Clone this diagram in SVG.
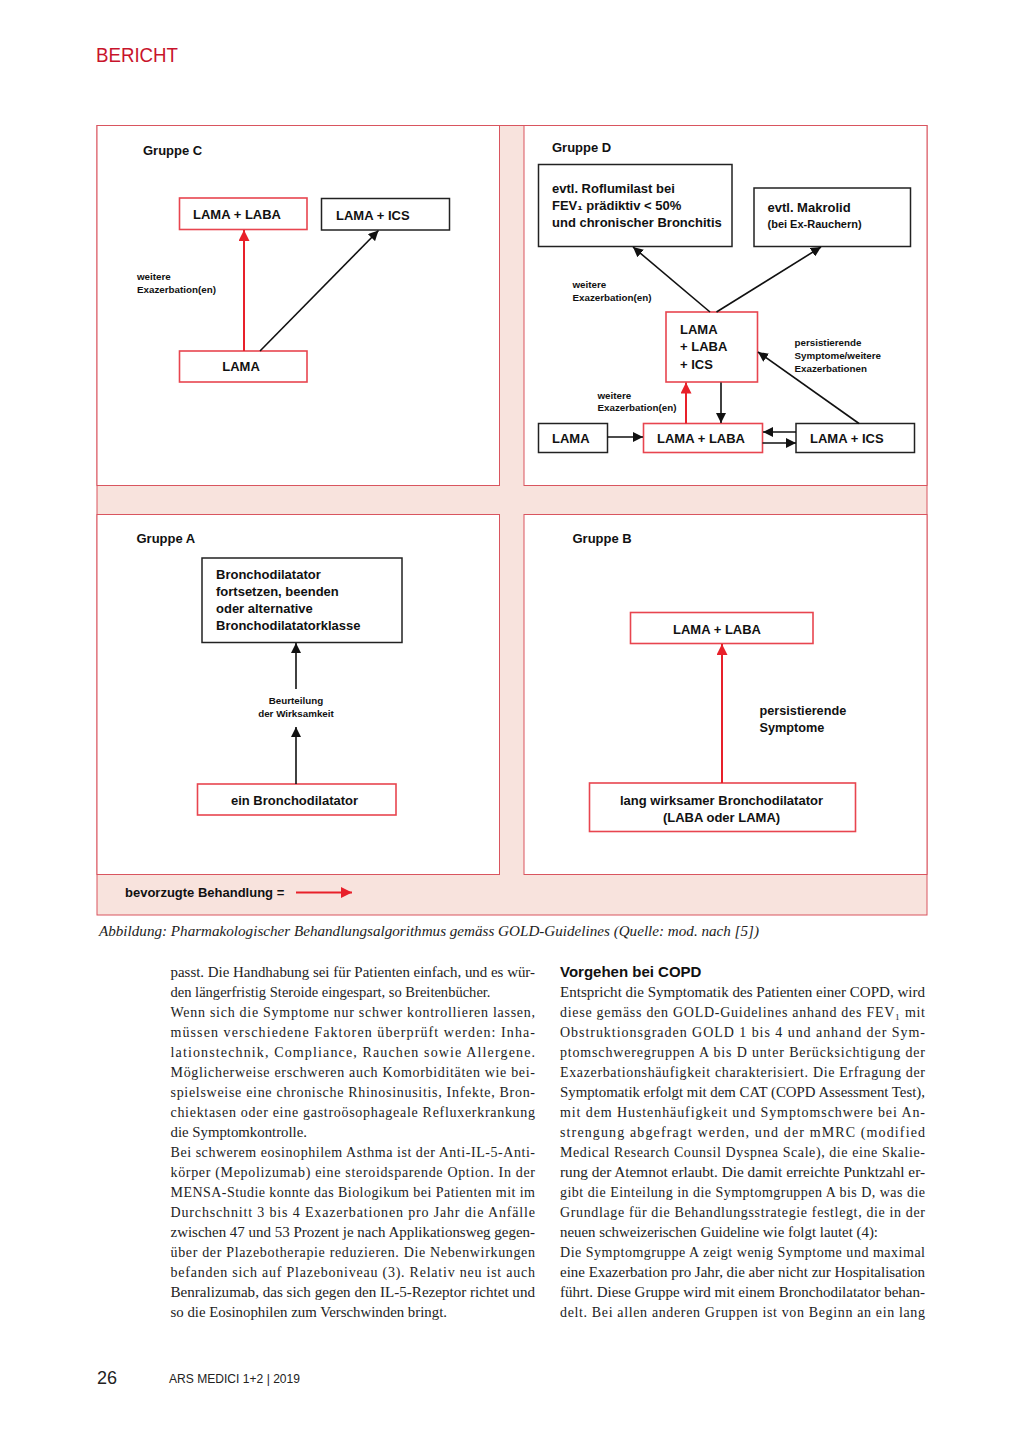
<svg xmlns="http://www.w3.org/2000/svg" width="1024" height="1437" viewBox="0 0 1024 1437">
<style>
.lbl{font-family:"Liberation Sans",Arial,sans-serif;font-weight:bold;fill:#111;}
.f13{font-size:13px;}
.f11{font-size:11px;}
.f95{font-size:9.8px;}
.rbox{fill:#fff;stroke:#e8454f;stroke-width:1.6;}
.kbox{fill:#fff;stroke:#222;stroke-width:1.5;}
.panel{fill:#fff;stroke:#d9555f;stroke-width:1;}
.ka{stroke:#111;stroke-width:1.6;fill:none;}
.ra{stroke:#e8202a;stroke-width:2;fill:none;}
.body{font-family:"Liberation Serif","Times New Roman",serif;font-size:14px;fill:#222;}
</style>
<defs>
<marker id="mk" viewBox="0 0 10 10" refX="10" refY="5" markerWidth="10" markerHeight="10" markerUnits="userSpaceOnUse" orient="auto"><path d="M0,0 L10,5 L0,10 z" fill="#111"/></marker>
<marker id="mr" viewBox="0 0 10 10" refX="10" refY="5" markerWidth="11" markerHeight="11" markerUnits="userSpaceOnUse" orient="auto"><path d="M0,0 L10,5 L0,10 z" fill="#e8202a"/></marker>
</defs>

<text x="96" y="61.5" font-family="Liberation Sans,Arial,sans-serif" font-size="19.5" fill="#c8142c" textLength="82" lengthAdjust="spacingAndGlyphs">BERICHT</text>

<!-- background -->
<g id="background">
<rect x="97" y="125.5" width="830" height="789.5" fill="#f8e3dd" stroke="#d9555f" stroke-width="1"/>
<rect class="panel" x="97" y="125.5" width="402.5" height="360"/>
<rect class="panel" x="524" y="125.5" width="403" height="360"/>
<rect class="panel" x="97" y="514.5" width="402.5" height="360"/>
<rect class="panel" x="524" y="514.5" width="403" height="360"/>
</g>

<!-- Gruppe C -->
<g id="gruppe-c">
<text class="lbl f13" x="143" y="154.5">Gruppe C</text>
<g id="c-lama-laba"><rect class="rbox" x="179.5" y="198" width="127.5" height="31.5"/><text class="lbl f13" x="193" y="219">LAMA + LABA</text></g>
<g id="c-lama-ics"><rect class="kbox" x="321.5" y="198.5" width="128" height="31.5"/><text class="lbl f13" x="336" y="219.5">LAMA + ICS</text></g>
<g id="c-lama"><rect class="rbox" x="179.5" y="351" width="127.5" height="31"/><text class="lbl f13" x="241" y="371" text-anchor="middle">LAMA</text></g>
<text class="lbl f95" x="137" y="279.5">weitere</text>
<text class="lbl f95" x="137" y="292.5">Exazerbation(en)</text>
</g>

<!-- Gruppe D -->
<g id="gruppe-d">
<text class="lbl f13" x="552" y="151.5">Gruppe D</text>
<g id="d-roflumilast"><rect class="kbox" x="538.5" y="164.5" width="193.5" height="82"/>
<text class="lbl f13" x="552" y="193">evtl. Roflumilast bei</text>
<text class="lbl f13" x="552" y="210">FEV₁ prädiktiv &lt; 50%</text>
<text class="lbl f13" x="552" y="227">und chronischer Bronchitis</text></g>
<g id="d-makrolid"><rect class="kbox" x="754" y="188" width="156.5" height="58.5"/>
<text class="lbl f13" x="767.5" y="212">evtl. Makrolid</text>
<text class="lbl f11" x="767.5" y="228">(bei Ex-Rauchern)</text></g>
<g id="d-triple"><rect class="rbox" x="666" y="312" width="91.5" height="70"/>
<text class="lbl f13" x="680" y="333.5">LAMA</text>
<text class="lbl f13" x="680" y="351">+ LABA</text>
<text class="lbl f13" x="680" y="368.5">+ ICS</text></g>
<g id="d-lama"><rect class="kbox" x="538.5" y="423.5" width="69" height="29"/><text class="lbl f13" x="552" y="443">LAMA</text></g>
<g id="d-lama-laba"><rect class="rbox" x="643.5" y="423.5" width="119" height="29"/><text class="lbl f13" x="657" y="443">LAMA + LABA</text></g>
<g id="d-lama-ics"><rect class="kbox" x="796" y="423.5" width="118.5" height="29"/><text class="lbl f13" x="810" y="443">LAMA + ICS</text></g>
<text class="lbl f95" x="572.5" y="288">weitere</text>
<text class="lbl f95" x="572.5" y="300.5">Exazerbation(en)</text>
<text class="lbl f95" x="794.5" y="346">persistierende</text>
<text class="lbl f95" x="794.5" y="359">Symptome/weitere</text>
<text class="lbl f95" x="794.5" y="372">Exazerbationen</text>
<text class="lbl f95" x="597.5" y="398.5">weitere</text>
<text class="lbl f95" x="597.5" y="411">Exazerbation(en)</text>
</g>

<!-- Gruppe A -->
<g id="gruppe-a">
<text class="lbl f13" x="136.5" y="543">Gruppe A</text>
<g id="a-fortsetzen"><rect class="kbox" x="202" y="558" width="200" height="84.5"/>
<text class="lbl f13" x="216" y="579">Bronchodilatator</text>
<text class="lbl f13" x="216" y="596">fortsetzen, beenden</text>
<text class="lbl f13" x="216" y="613">oder alternative</text>
<text class="lbl f13" x="216" y="630">Bronchodilatatorklasse</text></g>
<g id="a-ein"><rect class="rbox" x="197.5" y="784" width="198.5" height="31"/><text class="lbl f13" x="294.5" y="805" text-anchor="middle">ein Bronchodilatator</text></g>
<text class="lbl f95" x="296" y="704" text-anchor="middle">Beurteilung</text>
<text class="lbl f95" x="296" y="716.5" text-anchor="middle">der Wirksamkeit</text>
</g>

<!-- Gruppe B -->
<g id="gruppe-b">
<text class="lbl f13" x="572.5" y="543">Gruppe B</text>
<g id="b-lama-laba"><rect class="rbox" x="630.5" y="612.5" width="182.5" height="31"/><text class="lbl f13" x="717" y="633.5" text-anchor="middle">LAMA + LABA</text></g>
<g id="b-lang"><rect class="rbox" x="589.5" y="783" width="266" height="48.5"/>
<text class="lbl f13" x="721.5" y="804.5" text-anchor="middle">lang wirksamer Bronchodilatator</text>
<text class="lbl f13" x="721.5" y="821.5" text-anchor="middle">(LABA oder LAMA)</text></g>
<text class="lbl" font-size="12.7" x="759.5" y="714.5">persistierende</text>
<text class="lbl" font-size="12.7" x="759.5" y="732">Symptome</text>
</g>

<!-- Legend -->
<g id="legend">
<text class="lbl f13" x="125" y="897">bevorzugte Behandlung =</text>
</g>

<!-- Connectors -->
<g id="connectors">
<line class="ra" x1="244" y1="351" x2="244" y2="230" marker-end="url(#mr)"/>
<line class="ka" x1="260" y1="351" x2="378.5" y2="230.5" marker-end="url(#mk)"/>
<line class="ka" x1="710" y1="312" x2="633" y2="247" marker-end="url(#mk)"/>
<line class="ka" x1="716.5" y1="312" x2="821" y2="247" marker-end="url(#mk)"/>
<line class="ka" x1="859" y1="423.5" x2="758" y2="352" marker-end="url(#mk)"/>
<line class="ka" x1="607.5" y1="437" x2="643" y2="437" marker-end="url(#mk)"/>
<line class="ra" x1="686" y1="423.5" x2="686" y2="382.5" marker-end="url(#mr)"/>
<line class="ka" x1="721" y1="382.5" x2="721" y2="423" marker-end="url(#mk)"/>
<line class="ka" x1="796" y1="432" x2="763" y2="432" marker-end="url(#mk)"/>
<line class="ka" x1="762.5" y1="443" x2="796" y2="443" marker-end="url(#mk)"/>
<line class="ka" x1="296" y1="689" x2="296" y2="643" marker-end="url(#mk)"/>
<line class="ka" x1="296" y1="784" x2="296" y2="727" marker-end="url(#mk)"/>
<line class="ra" x1="722" y1="783" x2="722" y2="644" marker-end="url(#mr)"/>
<line class="ra" x1="296" y1="892.5" x2="352" y2="892.5" marker-end="url(#mr)"/>
</g>

<!-- Caption -->
<text x="99" y="935.5" font-family="Liberation Serif,Times New Roman,serif" font-style="italic" font-size="14.5" fill="#222" textLength="660" lengthAdjust="spacingAndGlyphs">Abbildung: Pharmakologischer Behandlungsalgorithmus gemäss GOLD-Guidelines (Quelle: mod. nach [5])</text>

<!-- Left column -->
<g class="body">
<text x="170.5" y="977" textLength="364.5" lengthAdjust="spacingAndGlyphs">passt. Die Handhabung sei für Patienten einfach, und es wür-</text>
<text x="170.5" y="997" textLength="320" lengthAdjust="spacingAndGlyphs">den längerfristig Steroide eingespart, so Breitenbücher.</text>
<text x="170.5" y="1017" textLength="364.5" lengthAdjust="spacing">Wenn sich die Symptome nur schwer kontrollieren lassen,</text>
<text x="170.5" y="1037" textLength="364.5" lengthAdjust="spacing">müssen verschiedene Faktoren überprüft werden: Inha-</text>
<text x="170.5" y="1057" textLength="364.5" lengthAdjust="spacing">lationstechnik, Compliance, Rauchen sowie Allergene.</text>
<text x="170.5" y="1077" textLength="364.5" lengthAdjust="spacing">Möglicherweise erschweren auch Komorbiditäten wie bei-</text>
<text x="170.5" y="1097" textLength="364.5" lengthAdjust="spacing">spielsweise eine chronische Rhinosinusitis, Infekte, Bron-</text>
<text x="170.5" y="1117" textLength="364.5" lengthAdjust="spacing">chiektasen oder eine gastroösophageale Refluxerkrankung</text>
<text x="170.5" y="1137" textLength="136.5" lengthAdjust="spacingAndGlyphs">die Symptomkontrolle.</text>
<text x="170.5" y="1157" textLength="364.5" lengthAdjust="spacing">Bei schwerem eosinophilem Asthma ist der Anti-IL-5-Anti-</text>
<text x="170.5" y="1177" textLength="364.5" lengthAdjust="spacing">körper (Mepolizumab) eine steroidsparende Option. In der</text>
<text x="170.5" y="1197" textLength="364.5" lengthAdjust="spacing">MENSA-Studie konnte das Biologikum bei Patienten mit im</text>
<text x="170.5" y="1217" textLength="364.5" lengthAdjust="spacing">Durchschnitt 3 bis 4 Exazerbationen pro Jahr die Anfälle</text>
<text x="170.5" y="1237" textLength="364.5" lengthAdjust="spacingAndGlyphs">zwischen 47 und 53 Prozent je nach Applikationsweg gegen-</text>
<text x="170.5" y="1257" textLength="364.5" lengthAdjust="spacing">über der Plazebotherapie reduzieren. Die Nebenwirkungen</text>
<text x="170.5" y="1277" textLength="364.5" lengthAdjust="spacing">befanden sich auf Plazeboniveau (3). Relativ neu ist auch</text>
<text x="170.5" y="1297" textLength="364.5" lengthAdjust="spacingAndGlyphs">Benralizumab, das sich gegen den IL-5-Rezeptor richtet und</text>
<text x="170.5" y="1317" textLength="276.5" lengthAdjust="spacingAndGlyphs">so die Eosinophilen zum Verschwinden bringt.</text>
</g>

<!-- Right column -->
<text x="560" y="976.5" font-family="Liberation Sans,Arial,sans-serif" font-weight="bold" font-size="15" fill="#111">Vorgehen bei COPD</text>
<g class="body">
<text x="560" y="997" textLength="365" lengthAdjust="spacingAndGlyphs">Entspricht die Symptomatik des Patienten einer COPD, wird</text>
<text x="560" y="1017" textLength="365" lengthAdjust="spacing">diese gemäss den GOLD-Guidelines anhand des FEV₁ mit</text>
<text x="560" y="1037" textLength="365" lengthAdjust="spacing">Obstruktionsgraden GOLD 1 bis 4 und anhand der Sym-</text>
<text x="560" y="1057" textLength="365" lengthAdjust="spacing">ptomschweregruppen A bis D unter Berücksichtigung der</text>
<text x="560" y="1077" textLength="365" lengthAdjust="spacing">Exazerbationshäufigkeit charakterisiert. Die Erfragung der</text>
<text x="560" y="1097" textLength="365" lengthAdjust="spacingAndGlyphs">Symptomatik erfolgt mit dem CAT (COPD Assessment Test),</text>
<text x="560" y="1117" textLength="365" lengthAdjust="spacing">mit dem Hustenhäufigkeit und Symptomschwere bei An-</text>
<text x="560" y="1137" textLength="365" lengthAdjust="spacing">strengung abgefragt werden, und der mMRC (modified</text>
<text x="560" y="1157" textLength="365" lengthAdjust="spacing">Medical Research Counsil Dyspnea Scale), die eine Skalie-</text>
<text x="560" y="1177" textLength="365" lengthAdjust="spacingAndGlyphs">rung der Atemnot erlaubt. Die damit erreichte Punktzahl er-</text>
<text x="560" y="1197" textLength="365" lengthAdjust="spacing">gibt die Einteilung in die Symptomgruppen A bis D, was die</text>
<text x="560" y="1217" textLength="365" lengthAdjust="spacing">Grundlage für die Behandlungsstrategie festlegt, die in der</text>
<text x="560" y="1237" textLength="318" lengthAdjust="spacingAndGlyphs">neuen schweizerischen Guideline wie folgt lautet (4):</text>
<text x="560" y="1257" textLength="365" lengthAdjust="spacing">Die Symptomgruppe A zeigt wenig Symptome und maximal</text>
<text x="560" y="1277" textLength="365" lengthAdjust="spacingAndGlyphs">eine Exazerbation pro Jahr, die aber nicht zur Hospitalisation</text>
<text x="560" y="1297" textLength="365" lengthAdjust="spacingAndGlyphs">führt. Diese Gruppe wird mit einem Bronchodilatator behan-</text>
<text x="560" y="1317" textLength="365" lengthAdjust="spacing">delt. Bei allen anderen Gruppen ist von Beginn an ein lang</text>
</g>

<!-- Footer -->
<text x="97" y="1384" font-family="Liberation Sans,Arial,sans-serif" font-size="18" fill="#222">26</text>
<text x="169" y="1383" font-family="Liberation Sans,Arial,sans-serif" font-size="12" fill="#222" textLength="131" lengthAdjust="spacingAndGlyphs">ARS MEDICI 1+2 | 2019</text>
</svg>
